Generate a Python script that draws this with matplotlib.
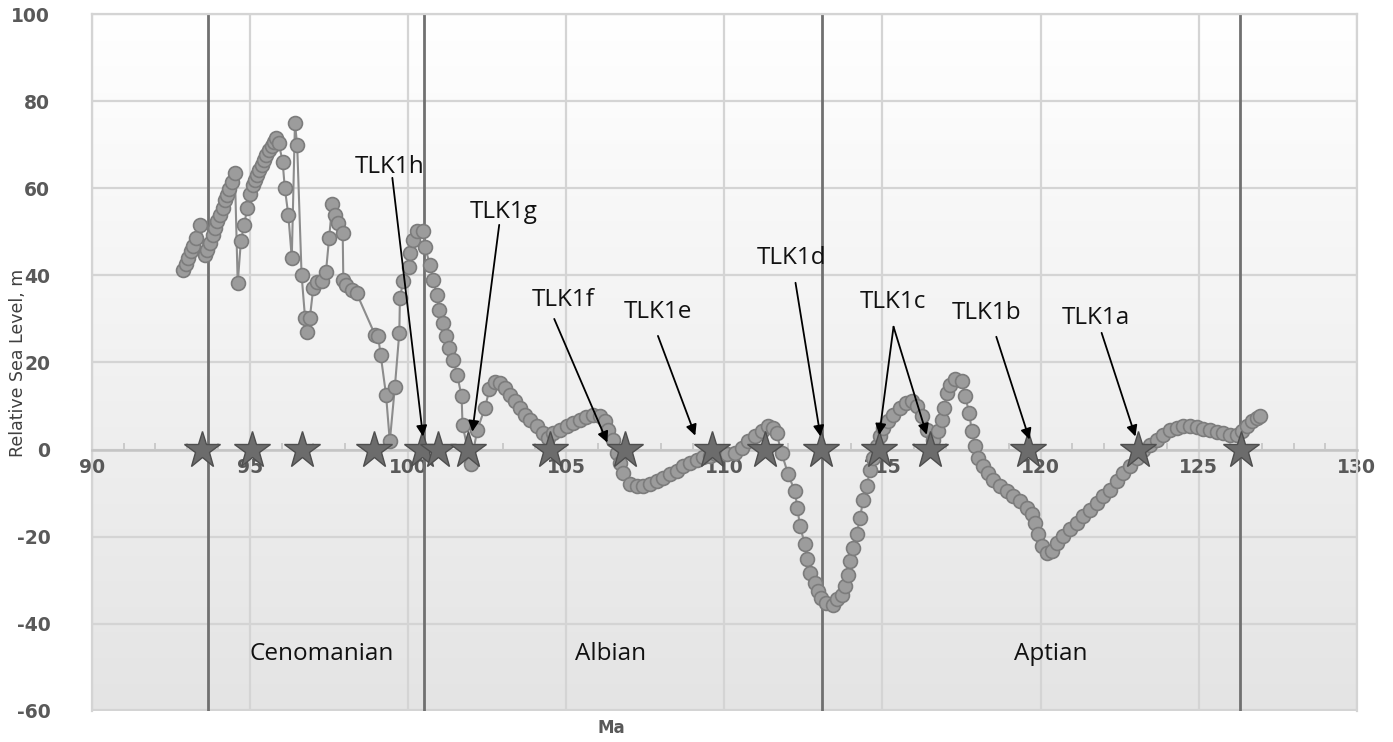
import numpy as np
import matplotlib.pyplot as plt
from matplotlib.colors import LinearSegmentedColormap

plt.rcParams['axes.unicode_minus'] = False

# relative sea level curve (Ma, m)
age = [92.88, 92.97, 93.04, 93.13, 93.19, 93.29, 93.42,
       93.57, 93.65, 93.73, 93.82, 93.89, 93.96, 94.05, 94.13, 94.21, 94.28, 94.34, 94.42, 94.52,
       94.61, 94.71,
       94.81, 94.91, 95.00, 95.08, 95.15, 95.23, 95.29, 95.37, 95.44, 95.52, 95.60, 95.68, 95.76, 95.82,
       95.91, 96.03, 96.10, 96.21, 96.32, 96.42, 96.49, 96.63,
       96.74, 96.79, 96.89, 97.00, 97.11, 97.26, 97.40, 97.50, 97.60, 97.68, 97.79, 97.93,
       97.95, 98.05, 98.21, 98.37, 98.95, 99.05, 99.13, 99.30, 99.42, 99.58, 99.72, 99.74, 99.84,
       100.03, 100.06, 100.16, 100.29, 100.48, 100.53, 100.69, 100.79, 100.90, 100.98, 101.09,
       101.21, 101.30, 101.43, 101.55, 101.69, 101.72, 101.98, 102.19, 102.43, 102.57, 102.75,
       102.90, 103.06, 103.22, 103.38, 103.54, 103.69, 103.85, 104.06, 104.27, 104.43, 104.59,
       104.80, 105.01, 105.22, 105.43, 105.64, 105.85, 106.07, 106.22, 106.33, 106.49, 106.59,
       106.70, 106.80, 107.01, 107.23, 107.44, 107.65, 107.86, 108.07, 108.28, 108.49, 108.70,
       108.91, 109.12, 109.33, 109.54, 109.75, 110.07, 110.34, 110.55, 110.76, 110.97, 111.18,
       111.39, 111.55, 111.65, 111.81, 112.02, 112.23, 112.31, 112.39, 112.55, 112.60, 112.70,
       112.86, 112.97, 113.07, 113.23, 113.44, 113.55, 113.71, 113.81, 113.92, 113.97, 114.08,
       114.18, 114.29, 114.39, 114.50, 114.61, 114.71, 114.82, 114.92, 115.03, 115.18, 115.34,
       115.55, 115.76, 115.92, 116.08, 116.24, 116.40, 116.61, 116.76, 116.87, 116.95, 117.03,
       117.13, 117.29, 117.50, 117.61, 117.75, 117.82, 117.93, 118.03, 118.19, 118.35, 118.50,
       118.71, 118.93, 119.14, 119.35, 119.56, 119.72, 119.82, 119.93, 120.03, 120.19, 120.35,
       120.51, 120.72, 120.93, 121.14, 121.35, 121.56, 121.77, 121.98, 122.19, 122.41, 122.62,
       122.83, 123.04, 123.25, 123.46, 123.67, 123.88, 124.09, 124.30, 124.51, 124.72, 124.94,
       125.15, 125.36, 125.57, 125.78, 125.99, 126.20, 126.36, 126.52, 126.68, 126.83, 126.94]
sea_level = [41.3, 42.7, 44.0, 45.5, 46.8, 48.5, 51.6,
             44.7, 45.9, 47.4, 49.3, 50.8, 52.4, 53.9, 55.4, 57.2, 58.5, 59.8, 61.5, 63.6,
             38.2, 47.8,
             51.6, 55.4, 58.7, 60.8, 61.9, 63.1, 64.2, 65.4, 66.5, 67.7, 68.8, 69.7, 70.7, 71.5,
             70.3, 66.1, 60.0, 53.9, 44.0, 74.9, 70.0, 40.1,
             30.2, 27.1, 30.2, 37.1, 38.4, 38.6, 40.7, 48.6, 56.4, 53.9, 52.0, 49.7,
             39.0, 37.8, 36.7, 35.9, 26.4, 26.0, 21.8, 12.6, 1.9, 14.4, 26.8, 34.8, 38.6,
             42.0, 45.1, 48.2, 50.1, 50.1, 46.6, 42.4, 39.0, 35.6, 32.1, 29.1,
             26.0, 23.3, 20.6, 17.2, 12.2, 5.7, -3.4, 4.6, 9.6, 13.8, 15.4,
             15.3, 14.1, 12.6, 11.1, 9.6, 8.0, 6.9, 5.4, 3.8, 2.7, 3.8,
             4.6, 5.4, 6.1, 6.9, 7.5, 8.0, 7.6, 6.5, 4.6, 2.3, -0.8,
             -3.0, -5.4, -8.0, -8.4, -8.3, -8.0, -7.3, -6.5, -5.7, -5.0, -3.8,
             -3.1, -2.3, -1.7, -1.4, -1.1, -1.0, -0.8, 0.4, 1.9, 3.1, 4.2,
             5.4, 5.0, 3.8, -0.8, -5.7, -9.6, -13.4, -17.6, -21.8, -25.2, -28.3,
             -30.6, -32.5, -34.0, -35.2, -35.6, -34.4, -33.3, -31.4, -28.7, -25.6, -22.6,
             -19.5, -15.7, -11.5, -8.4, -4.6, -1.9, 0.8, 3.1, 5.0, 6.5, 8.0,
             9.6, 10.7, 11.1, 9.9, 7.6, 4.6, 2.3, 4.2, 6.9, 9.6, 13.0,
             14.9, 16.1, 15.7, 12.2, 8.4, 4.2, 0.8, -1.9, -3.8, -5.4, -6.9,
             -8.4, -9.6, -10.7, -11.9, -13.4, -14.9, -16.8, -19.5, -22.2, -23.7, -23.3,
             -21.4, -19.9, -18.3, -16.8, -15.3, -13.8, -12.2, -10.7, -9.2, -7.3, -5.3,
             -3.8, -1.9, 0.0, 1.1, 2.3, 3.4, 4.4, 5.0, 5.4, 5.5, 5.2,
             4.7, 4.4, 4.1, 3.8, 3.4, 3.4, 4.2, 5.4, 6.5, 7.3, 7.8]

star_age = [93.48, 95.06, 96.65, 98.92, 100.44, 100.95, 101.9, 104.5, 106.87,
            109.6, 111.3, 113.07, 114.9, 116.5, 119.6, 123.07, 126.33]
star_level = [0] * len(star_age)

boundaries = [93.67, 100.5, 113.1, 126.3]

stages = ['Cenomanian', 'Albian', 'Aptian']
stage_x = [97.27, 106.41, 120.33]
stage_y = -47

names = ['TLK1h', 'TLK1g', 'TLK1f', 'TLK1e', 'TLK1d', 'TLK1c', 'TLK1b', 'TLK1a']
name_x = [99.42, 103.03, 104.9, 107.9, 112.14, 115.33, 118.3, 121.75]
name_y = [64.9, 54.6, 34.4, 31.7, 44.0, 33.9, 31.4, 30.3]

# arrows: (start x, start y, end x, end y)
arrow_x0 = [99.5, 102.88, 104.62, 107.9, 112.25, 115.35, 115.35, 118.6, 121.93]
arrow_y0 = [62.4, 51.6, 30.0, 26.1, 38.3, 28.2, 28.2, 25.9, 26.8]
arrow_x1 = [100.47, 102.03, 106.3, 109.08, 113.04, 114.9, 116.4, 119.65, 123.0]
arrow_y1 = [3.0, 4.1, 1.6, 3.2, 3.0, 3.4, 3.4, 2.3, 3.0]

fig = plt.figure(figsize=(13.93, 7.42), dpi=100)
ax = fig.add_axes([0.066, 0.042, 0.908, 0.939])

# soft vertical gradient background
cmap = LinearSegmentedColormap.from_list('bg', ['#e4e4e4', '#ffffff'])
ax.imshow(np.linspace(1, 0, 256).reshape(-1, 1), extent=[90, 130, -60, 100],
          aspect='auto', cmap=cmap, zorder=0)

ax.set_xlim(90, 130)
ax.set_ylim(-60, 100)
ax.set_xticks(np.arange(90, 131, 5))
ax.set_xticks(np.arange(90, 131, 1), minor=True)
ax.set_yticks(np.arange(-60, 101, 20))
ax.grid(True, which='major', color='#d4d4d4', lw=1.6, zorder=1)

for s in ['left', 'right', 'top']:
    ax.spines[s].set_color('#d4d4d4')
    ax.spines[s].set_linewidth(1.6)
ax.spines['bottom'].set_position(('data', 0))
ax.spines['bottom'].set_color('#c4c4c4')
ax.spines['bottom'].set_linewidth(1.8)
ax.axhline(-60, color='#d4d4d4', lw=3, zorder=1)

ax.tick_params(axis='y', length=0, labelsize=13.5, labelcolor='#595959', pad=30)
ax.tick_params(axis='x', which='both', direction='in', color='#c4c4c4',
               labelsize=13.5, labelcolor='#595959', pad=6)
ax.tick_params(axis='x', which='major', length=0)
ax.tick_params(axis='x', which='minor', length=5, width=1.2)
for lab in ax.get_xticklabels() + ax.get_yticklabels():
    lab.set_fontweight('bold')
for lab in ax.get_yticklabels():
    lab.set_horizontalalignment('right')

for b in boundaries:
    ax.axvline(b, color='#707070', lw=2, zorder=2)

ax.plot(age, sea_level, color='#8c8c8c', lw=1.5, marker='o', markersize=10,
        markerfacecolor='#9c9c9c', markeredgecolor='#7c7c7c', markeredgewidth=1.2, zorder=3)

ax.plot(star_age, star_level, linestyle='none', marker='*', markersize=28,
        markerfacecolor='#6c6c6c', markeredgecolor='#4e4e4e', markeredgewidth=1, zorder=4)

for t, x, y in zip(names, name_x, name_y):
    ax.text(x, y, t, fontsize=17.5, family=['Open Sans', 'DejaVu Sans'],
            ha='center', va='center', color='#111111', zorder=6)

for x0, y0, x1, y1 in zip(arrow_x0, arrow_y0, arrow_x1, arrow_y1):
    ax.annotate('', xy=(x1, y1), xytext=(x0, y0),
                arrowprops=dict(arrowstyle='-|>', color='black', lw=1.3,
                                mutation_scale=16, shrinkA=0, shrinkB=0), zorder=6)

for t, x in zip(stages, stage_x):
    ax.text(x, stage_y, t, fontsize=17.5, family=['Open Sans', 'DejaVu Sans'],
            ha='center', va='center', color='#111111', zorder=6)

fig.text(611 / 1393, 1 - 728 / 742, 'Ma', fontsize=12, fontweight='bold',
         color='#595959', ha='center', va='center')
fig.text(18 / 1393, 1 - 363 / 742, 'Relative Sea Level, m', fontsize=12.5, rotation=90,
         family=['Liberation Sans Narrow', 'DejaVu Sans'], color='#404040',
         ha='center', va='center')

fig.savefig('out.png', dpi=100)
